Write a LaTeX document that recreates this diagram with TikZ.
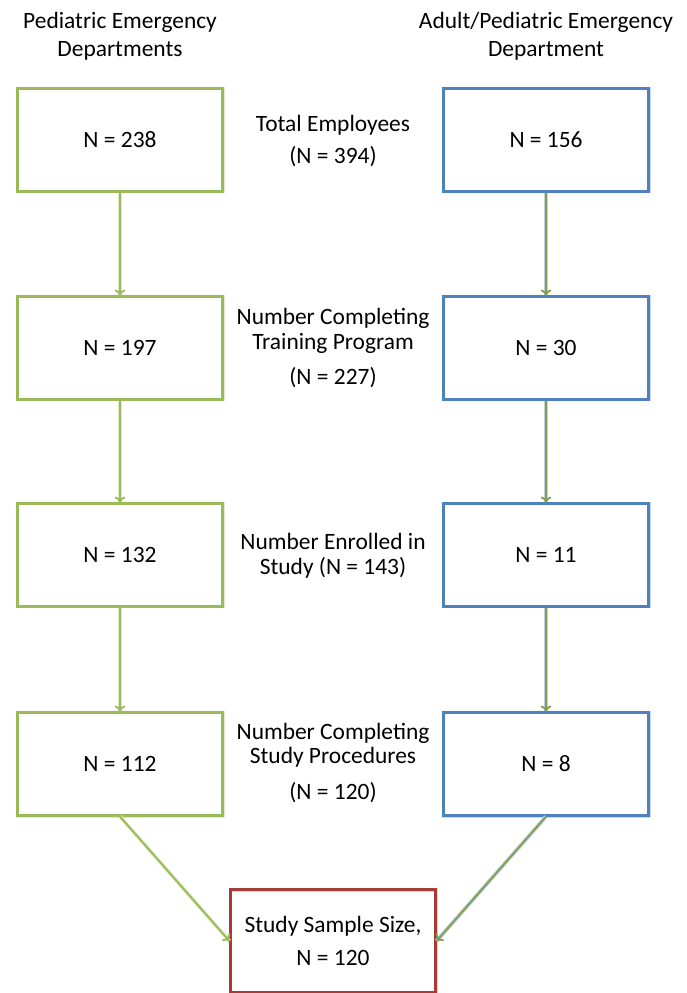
\documentclass[tikz,border=0pt]{standalone}
\usepackage{fontspec}
\setmainfont{Carlito}
\usetikzlibrary{arrows.meta}
\definecolor{boxgreen}{RGB}{155,187,89}
\definecolor{boxblue}{RGB}{79,129,189}
\definecolor{boxred}{RGB}{168,58,55}
\tikzset{
	box/.style={minimum width=6.15cm, minimum height=3.09cm, inner sep=0pt, align=center},
	gbox/.style={box, draw=boxgreen, line width=1.8pt, preaction={draw=boxgreen!30, line width=3.4pt}},
	bbox/.style={box, draw=boxblue, line width=1.8pt, preaction={draw=boxblue!30, line width=3.4pt}},
	rbox/.style={box, draw=boxred, line width=1.8pt, preaction={draw=boxred!25, line width=3.4pt}},
	label/.style={align=center},
	garrow/.style={->, draw=boxgreen, line width=1.6pt, preaction={draw=boxgreen!30, line width=3.2pt, -}},
	barrow/.style={->, draw=boxgreen!85!black, line width=1.6pt, preaction={draw=boxblue!35, line width=3.4pt, -}},
	>={To[length=5pt,width=9pt]}
}
\begin{document}
\begin{tikzpicture}[x=0.03cm, y=-0.03cm, font=\fontsize{20}{21}\selectfont]
	\useasboundingbox (0,0) rectangle (686,993);
	
	% Column headings
	\node[label] (lhead) at (120,36) {Pediatric Emergency\\[3pt]Departments};
	\node[label] (rhead) at (546,36) {Adult/Pediatric Emergency\\[3pt]Department};
	
	% Boxes for both sites
	\foreach \i/\y/\l/\r in {1/140/238/156, 2/348/197/30, 3/555/132/11, 4/764/112/8}{
		\node[gbox] (lb\i) at (120,\y) {N = \l};
		\node[bbox] (rb\i) at (546,\y) {N = \r};
	}
	
	% Labels in the middle
	\node[label] (total) at (333,141) {Total Employees\\[7pt](N = 394)};
	\node[label] (train) at (333,348) {Number Completing\\Training Program\\[9pt](N = 227)};
	\node[label] (enrol) at (333,556) {Number Enrolled in\\Study (N = 143)};
	\node[label] (proc) at (333,763) {Number Completing\\Study Procedures\\[9.5pt](N = 120)};
	
	% Sample size box
	\node[rbox] (sample) at (333,941) {Study Sample Size,\\[7pt]N = 120};
	
	% Arrows down each column
	\foreach \i/\j in {1/2, 2/3, 3/4}{
		\draw[garrow] (lb\i) -- (lb\j);
		\draw[barrow] (rb\i) -- (rb\j);
	}
	
	% Arrows into the sample box
	\draw[garrow] (lb4.south) -- (sample.west);
	\draw[barrow] (rb4.south) -- (sample.east);
	
\end{tikzpicture}
\end{document}
